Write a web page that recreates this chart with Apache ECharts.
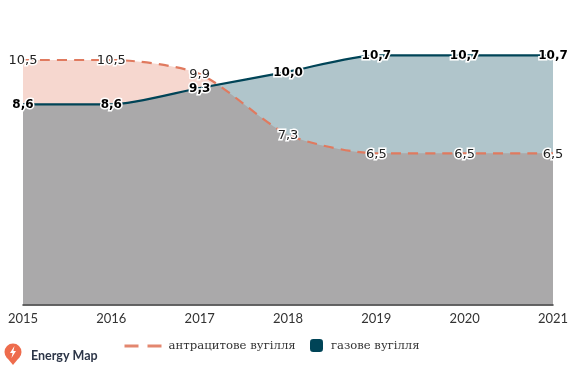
<!DOCTYPE html>
<html>
<head>
<meta charset="utf-8">
<style>
  html,body{margin:0;padding:0;background:#fff;}
  #chart{width:572px;height:371px;}
</style>
<script src="https://cdn.jsdelivr.net/npm/echarts@6/dist/echarts.min.js"></script>
</head>
<body>
<div id="chart"></div>
<script>
var years = ['2015','2016','2017','2018','2019','2020','2021'];
var anthracite = [10.5,10.5,9.9,7.3,6.5,6.5,6.5];
var gasCoal = [8.6,8.6,9.3,10.0,10.7,10.7,10.7];
var anthName = 'антрацитове вугілля';
var gasName = 'газове вугілля';

function labelStyle(color,weight,size){
  return {
    show:true,
    position:'inside',
    offset:[0,1],
    color:color,
    fontFamily:'DejaVu Sans',
    fontWeight:weight,
    fontSize:size,
    textBorderColor:'#fff',
    textBorderWidth:3,
    formatter:function(p){ return p.value.toFixed(1).replace('.',',') }
  }
}

var chart = echarts.init(document.getElementById('chart'));
chart.setOption({
  animation:false,
  grid:{left:23,right:19,top:25,bottom:66},
  xAxis:{
    type:'category',
    boundaryGap:false,
    data:years,
    axisTick:{show:false},
    axisLine:{lineStyle:{color:'#333',width:1.5}},
    axisLabel:{color:'#333',fontFamily:'Lato',fontSize:13,margin:7,interval:0}
  },
  yAxis:{type:'value',min:0,max:12,show:false},
  legend:[
    {
      data:[anthName],
      left:123,top:340,padding:0,
      itemWidth:39,itemHeight:10,
      itemStyle:{opacity:0},
      lineStyle:{type:[14,9],width:3,opacity:.9},
      textStyle:{color:'#333',fontFamily:'DejaVu Serif',fontSize:11.7}
    },
    {
      data:[{name:gasName,icon:'roundRect',itemStyle:{color:'#004457',opacity:1}}],
      left:310,top:339,padding:0,
      itemWidth:13,itemHeight:13,
      textStyle:{color:'#333',fontFamily:'DejaVu Serif',fontSize:11.6,padding:[0,0,0,3]}
    }
  ],
  graphic:[
    {
      type:'circle',
      shape:{cx:13,cy:352,r:8.5},
      style:{fill:'#EE6C4D'}
    },
    {
      type:'polygon',
      shape:{points:[[6,356.5],[20,356.5],[13,365]]},
      style:{fill:'#EE6C4D'}
    },
    {
      type:'polygon',
      shape:{points:[[14.5,346],[10,353],[12.6,353],[11.5,358],[16,351],[13.4,351]]},
      style:{fill:'#fff'}
    },
    {
      type:'text',
      left:31,top:349,
      style:{text:'Energy Map',fill:'#2d3648',font:'bold 12.5px Lato'}
    }
  ],
  series:[
    {
      // лінія окремо, щоб лежала поверх заливки газового
      name:anthName,
      type:'line',
      data:anthracite,
      smooth:.25,
      clip:false,
      symbol:'circle',
      symbolSize:0,
      showAllSymbol:true,
      itemStyle:{color:'#E07A5F'},
      lineStyle:{color:'#E07A5F',width:2.2,type:[10,7]},
      label:labelStyle('#222','normal',13),
      z:5
    },
    {
      name:anthName,
      type:'line',
      data:anthracite,
      smooth:.25,
      symbol:'none',
      lineStyle:{width:0},
      areaStyle:{color:'#E07A5F',opacity:.3},
      z:2
    },
    {
      name:gasName,
      type:'line',
      data:gasCoal,
      smooth:.25,
      clip:false,
      symbol:'circle',
      symbolSize:0,
      showAllSymbol:true,
      itemStyle:{color:'#004457'},
      lineStyle:{color:'#004457',width:2.2},
      areaStyle:{color:'#004457',opacity:.31},
      label:labelStyle('#000','bold',12),
      z:3
    }
  ]
});
</script>
</body>
</html>
